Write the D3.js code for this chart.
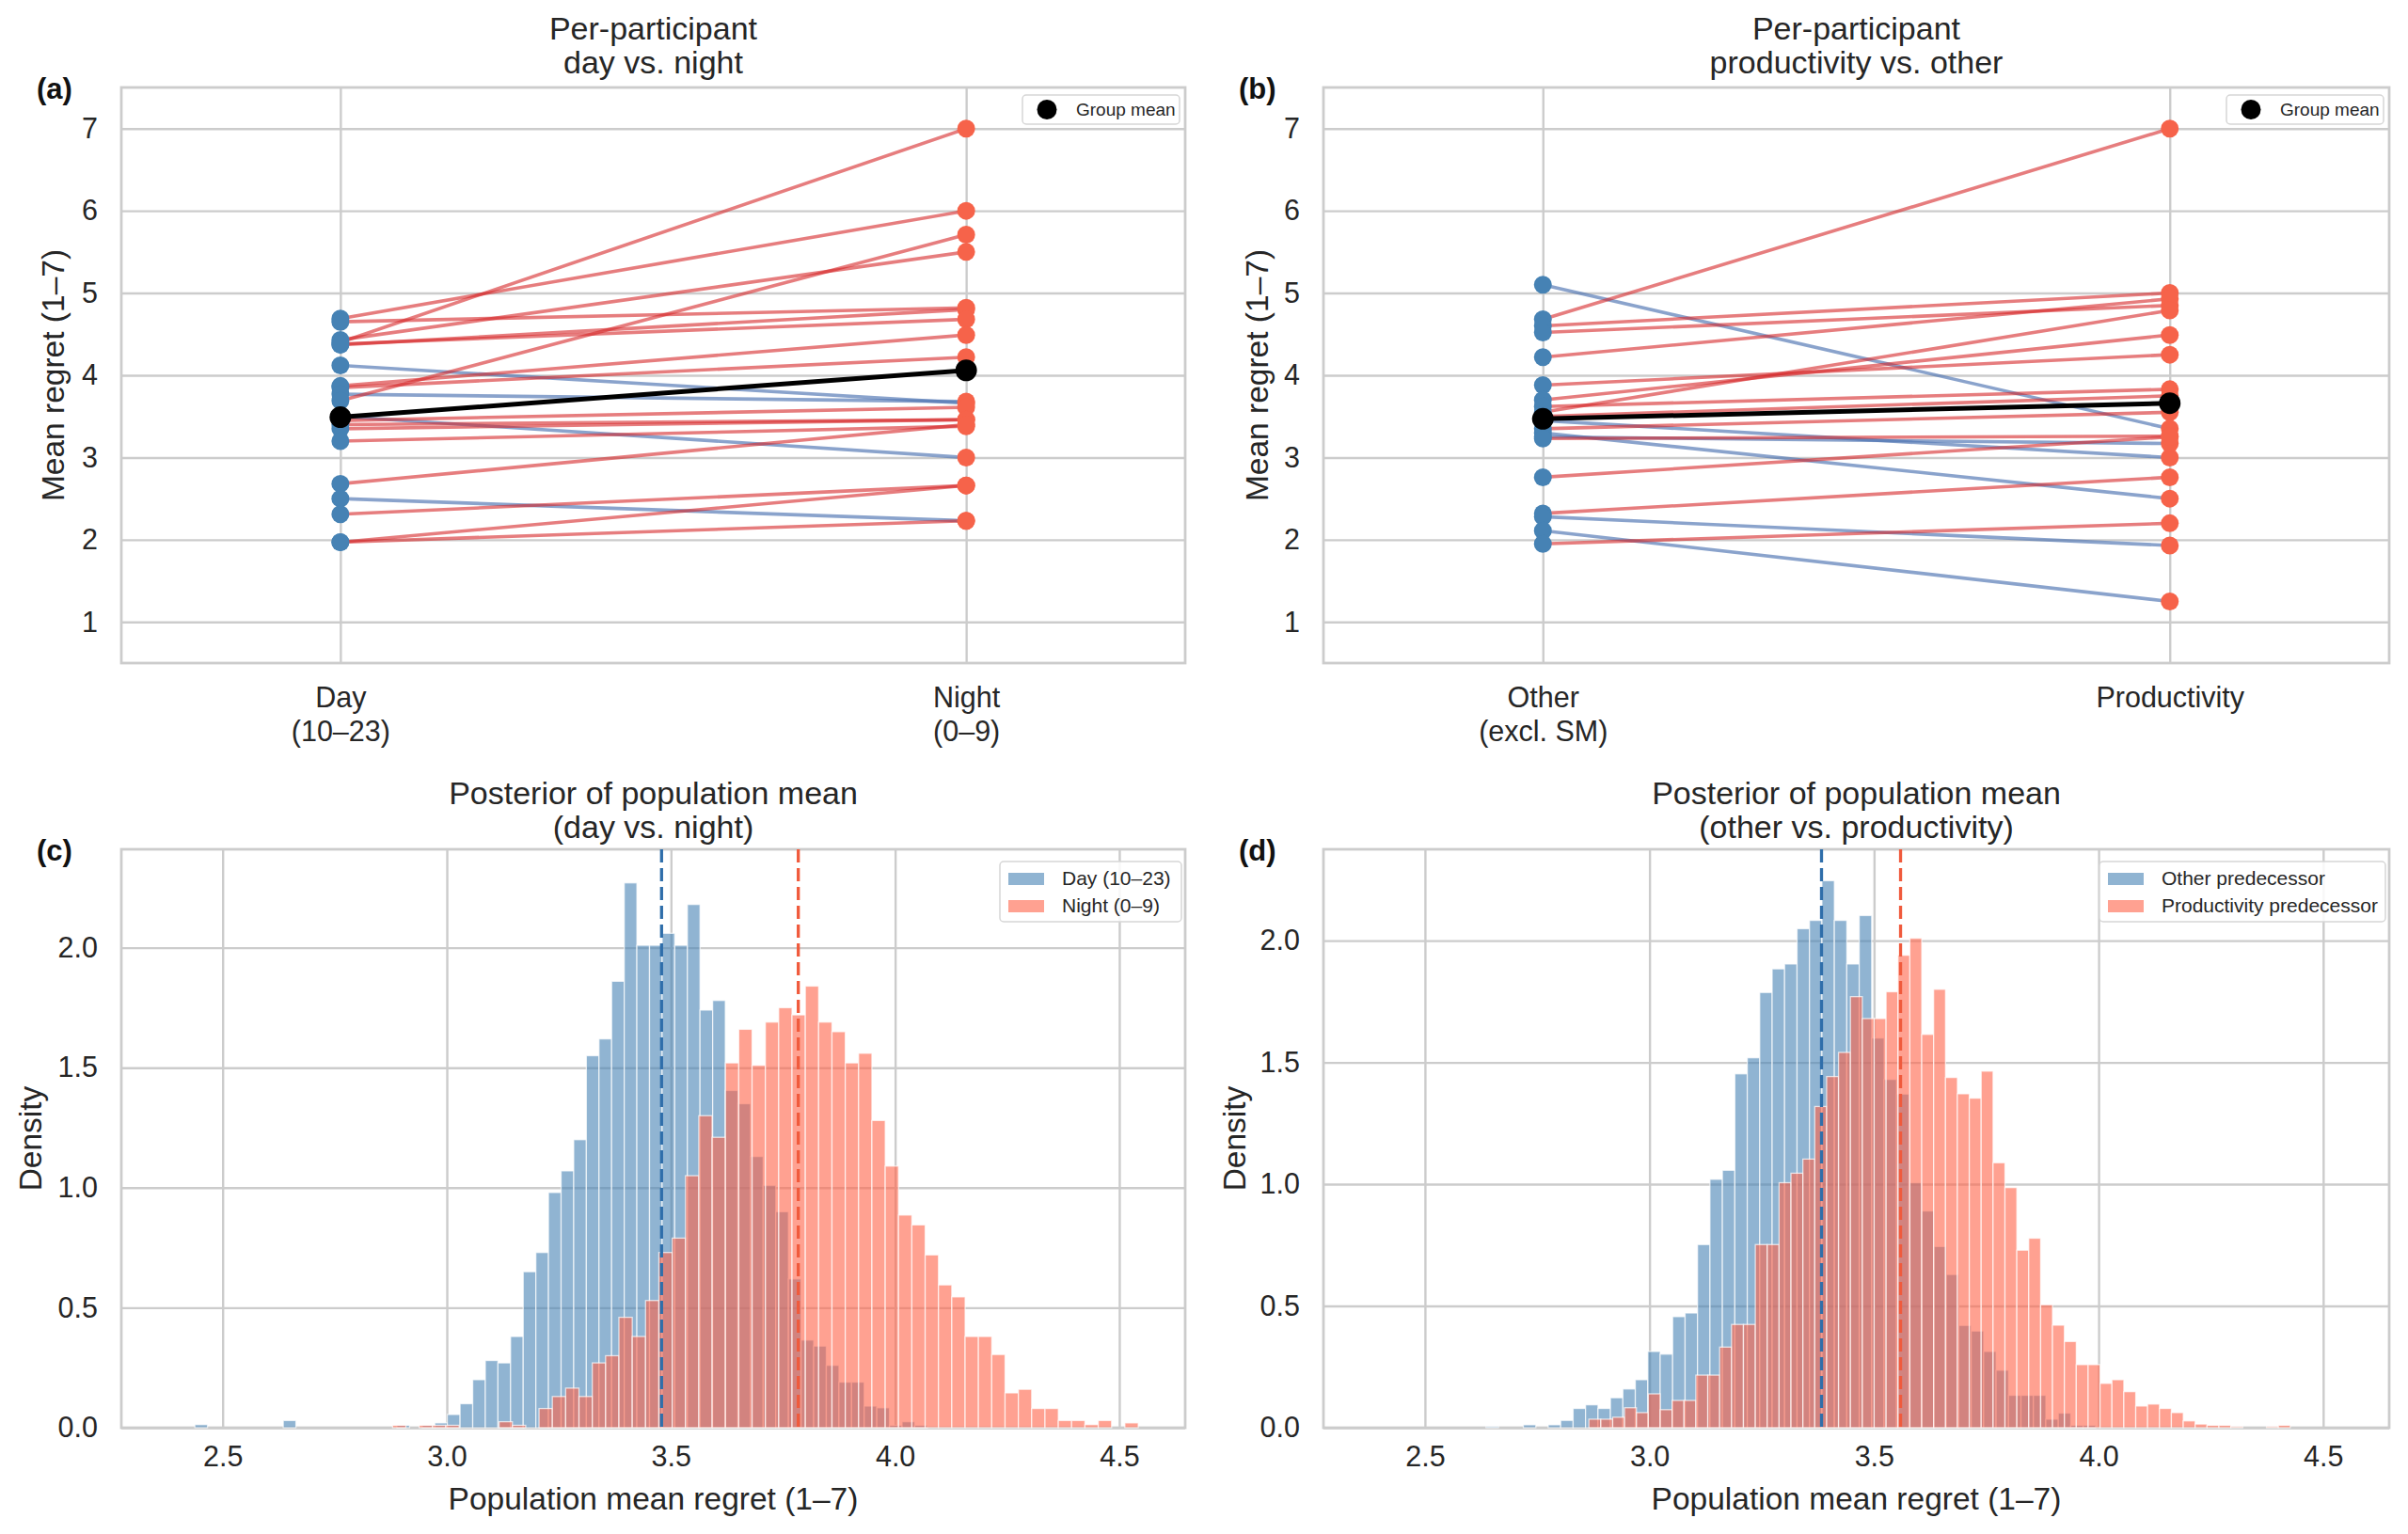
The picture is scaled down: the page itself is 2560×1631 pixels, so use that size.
<!DOCTYPE html>
<html><head><meta charset="utf-8">
<script src="https://cdn.jsdelivr.net/npm/d3@7/dist/d3.min.js"></script>
<style>
html,body{margin:0;padding:0;background:#fff;}
svg{display:block;font-family:"Liberation Sans",Arial,sans-serif;}
</style></head><body>
<svg id="chart" width="2560" height="1631"></svg>
<script>
// ---------------- DATA ----------------
const dayNightCategories = ["Day\n(10–23)", "Night\n(0–9)"];
const dayValues   = [4.69, 4.40, 4.65, 4.43, 4.37, 4.38, 4.12, 3.85, 3.87, 3.77, 3.69, 3.50, 3.45, 3.40, 3.35, 3.20, 2.68, 2.50, 2.31, 1.97, 1.97];
const nightValues = [6.00, 7.00, 4.82, 5.50, 4.80, 4.68, 3.66, 4.22, 4.49, 3.68, 5.71, 3.00, 3.61, 3.46, 3.46, 3.38, 3.40, 2.23, 2.66, 2.66, 2.23];
const dayNightMean = [3.49, 4.06];

const prodCategories = ["Other\n(excl. SM)", "Productivity"];
const otherValues        = [5.10, 4.68, 4.60, 4.52, 4.22, 3.88, 3.70, 3.55, 3.62, 3.50, 3.45, 3.35, 3.30, 3.25, 3.23, 2.76, 2.32, 2.28, 2.11, 1.95];
const productivityValues = [3.35, 7.00, 5.00, 4.85, 4.93, 4.25, 4.49, 4.79, 3.83, 3.75, 3.00, 3.55, 2.50, 3.17, 3.26, 3.25, 2.76, 1.93, 1.25, 2.20];
const prodMean = [3.47, 3.66];

const regretTicks = [1, 2, 3, 4, 5, 6, 7];
const densityTicks = [0, 0.5, 1.0, 1.5, 2.0];
const popMeanTicks = [2.5, 3.0, 3.5, 4.0, 4.5];

// posterior histograms: first bin edge, bin width, density per bin
const dayPostStart = 2.438, dayPostWidth = 0.02817;
const dayPostDensity = [0.013,0,0,0,0,0,0,0.03,0,0,0,0,0,0,0,0,0.01,0,0.01,0.02,
  0.055,0.10,0.20,0.28,0.27,0.38,0.65,0.73,0.98,1.07,1.20,1.55,1.62,1.86,2.27,2.01,2.01,2.06,2.01,2.18,
  1.74,1.78,1.405,1.35,1.13,1.01,0.90,0.62,0.365,0.34,0.26,0.19,0.19,0.09,0.083,0.01,0.025,0.01];
const nightPostStart = 2.879, nightPostWidth = 0.0297;
const nightPostDensity = [0.01,0,0.01,0.01,0.01,0,0,0,0.025,0.01,0,0.08,0.13,0.165,0.13,0.27,0.30,0.46,0.38,0.53,
  0.73,0.79,1.05,1.30,1.21,1.52,1.66,1.51,1.69,1.75,1.72,1.84,1.69,1.65,1.52,1.56,1.28,1.09,0.886,0.845,
  0.72,0.595,0.545,0.38,0.38,0.305,0.145,0.16,0.08,0.08,0.03,0.03,0.013,0.03,0,0.02];
const dayNightPostMeans = [3.479, 3.784];

const otherPostStart = 2.636, otherPostWidth = 0.0277;
const otherPostDensity = [0.005,0,0,0.012,0,0.012,0.03,0.079,0.094,0.079,0.123,0.159,0.197,0.313,0.302,0.456,0.471,0.752,1.02,1.057,
  1.453,1.519,1.787,1.884,1.904,2.049,2.083,2.246,2.083,1.904,2.103,1.60,1.43,1.37,1.006,0.89,0.744,0.629,0.42,0.397,
  0.313,0.236,0.133,0.133,0.133,0.035,0.06,0.01,0.01];
const prodPostStart = 2.865, prodPostWidth = 0.02647;
const prodPostDensity = [0.035,0.035,0.043,0.082,0.062,0.139,0.074,0.112,0.112,0.216,0.216,0.331,0.424,0.424,0.752,0.752,1.006,1.045,1.103,1.319,
  1.442,1.541,1.77,1.68,1.68,1.79,1.94,2.01,1.615,1.80,1.438,1.371,1.353,1.464,1.088,0.986,0.729,0.778,0.505,0.421,
  0.354,0.259,0.259,0.182,0.197,0.148,0.089,0.097,0.079,0.062,0.028,0.015,0.01,0.01,0.005,0,0,0.005,0.01];
const prodPostMeans = [3.383, 3.559];

// ---------------- STYLE ----------------
const TXT = "#262626", GRID = "#cccccc";
const BLUE = "#4682b4", RED = "#f6634a";
const UP_LINE = "#d62728", DOWN_LINE = "#4c72b0";
const HIST_BLUE = "#4682b4", HIST_RED = "#ff6347";
const svg = d3.select("#chart");

const boxes = {
  a: {x0: 129, x1: 1260, y0: 93, y1: 705},
  b: {x0: 1407, x1: 2540, y0: 93, y1: 705},
  c: {x0: 129, x1: 1260, y0: 903, y1: 1518},
  d: {x0: 1407, x1: 2540, y0: 903, y1: 1518}
};

function styleAxis(g) {
  g.select(".domain").remove();
  g.selectAll(".tick line").attr("stroke", GRID).attr("stroke-width", 2.4);
  g.selectAll(".tick text").attr("fill", TXT).style("font-size", "30.5px")
    .style("font-family", '"Liberation Sans", Arial, sans-serif');
}

function frame(box, titleLines, letter, titleBase) {
  const cx = (box.x0 + box.x1) / 2;
  const t = svg.append("text").attr("text-anchor", "middle").attr("fill", TXT).style("font-size", "34px");
  titleLines.forEach((s, i) => t.append("tspan").attr("x", cx).attr("y", titleBase + i * 36).text(s));
  svg.append("text").attr("x", box.x0 - 90).attr("y", box.y0 + 12).attr("fill", "#111")
    .style("font-size", "31px").style("font-weight", "bold").text(letter);
  svg.append("rect").attr("x", box.x0).attr("y", box.y0).attr("width", box.x1 - box.x0)
    .attr("height", box.y1 - box.y0).attr("fill", "none").attr("stroke", GRID).attr("stroke-width", 2.8);
}

function ylabelText(x, box, s) {
  const cy = (box.y0 + box.y1) / 2;
  svg.append("text").attr("transform", `translate(${x},${cy}) rotate(-90)`)
    .attr("text-anchor", "middle").attr("fill", TXT).style("font-size", "33.5px").text(s);
}

// ---------------- PAIRED PANELS ----------------
function drawPaired(box, cats, left, right, mean, titleLines, letter, ylabX) {
  const x = d3.scaleLinear().domain([-0.35, 1.35]).range([box.x0, box.x1]);
  const y = d3.scaleLinear().domain([0.5, 7.5]).range([box.y1, box.y0]);
  const w = box.x1 - box.x0, h = box.y1 - box.y0;

  const gy = svg.append("g").attr("transform", `translate(${box.x0},0)`)
    .call(d3.axisLeft(y).tickValues(regretTicks).tickSize(-w).tickPadding(25).tickFormat(d3.format("d")));
  styleAxis(gy);
  const gx = svg.append("g").attr("transform", `translate(0,${box.y1})`)
    .call(d3.axisBottom(x).tickValues([0, 1]).tickSize(-h).tickPadding(25).tickFormat(i => cats[i]));
  styleAxis(gx);
  gx.selectAll(".tick text").each(function(d) {
    const el = d3.select(this); const lines = cats[d].split("\n");
    el.text(null).attr("dy", null);
    lines.forEach((s, i) => el.append("tspan").attr("x", 0).attr("dy", i === 0 ? "0.71em" : "1.18em").text(s));
  });

  frame(box, titleLines, letter, 42);
  ylabelText(ylabX, box, "Mean regret (1–7)");

  const pairs = left.map((v, i) => ({a: v, b: right[i]}));
  svg.append("g").selectAll("line").data(pairs).join("line")
    .attr("x1", x(0)).attr("x2", x(1)).attr("y1", p => y(p.a)).attr("y2", p => y(p.b))
    .attr("stroke", p => p.b >= p.a ? UP_LINE : DOWN_LINE)
    .attr("stroke-opacity", p => p.b >= p.a ? 0.6 : 0.65).attr("stroke-width", 3.6);
  svg.append("g").selectAll("circle").data(left).join("circle")
    .attr("cx", x(0)).attr("cy", d => y(d)).attr("r", 9.5).attr("fill", BLUE);
  svg.append("g").selectAll("circle").data(right).join("circle")
    .attr("cx", x(1)).attr("cy", d => y(d)).attr("r", 9.5).attr("fill", RED);
  svg.append("line").attr("x1", x(0)).attr("x2", x(1)).attr("y1", y(mean[0])).attr("y2", y(mean[1]))
    .attr("stroke", "#000").attr("stroke-width", 5);
  svg.append("g").selectAll("circle").data(mean).join("circle")
    .attr("cx", (d, i) => x(i)).attr("cy", d => y(d)).attr("r", 11.5).attr("fill", "#000");

  // legend
  const lx1 = box.x1 - 6, lx0 = lx1 - 167, ly0 = box.y0 + 8;
  svg.append("rect").attr("x", lx0).attr("y", ly0).attr("width", lx1 - lx0).attr("height", 31)
    .attr("rx", 4).attr("fill", "#fff").attr("fill-opacity", 0.85).attr("stroke", "#d6d6d6").attr("stroke-width", 1.5);
  svg.append("circle").attr("cx", lx0 + 26).attr("cy", ly0 + 15.5).attr("r", 10.5).attr("fill", "#000");
  svg.append("text").attr("x", lx0 + 57).attr("y", ly0 + 22).attr("fill", TXT).style("font-size", "19px").text("Group mean");
}

// ---------------- HISTOGRAM PANELS ----------------
function drawHist(box, sA, sB, means, titleLines, letter, labels, yMax, ylabX) {
  const x = d3.scaleLinear().domain([2.274, 4.647]).range([box.x0, box.x1]);
  const y = d3.scaleLinear().domain([0, yMax]).range([box.y1, box.y0]);
  const w = box.x1 - box.x0, h = box.y1 - box.y0;

  const gy = svg.append("g").attr("transform", `translate(${box.x0},0)`)
    .call(d3.axisLeft(y).tickValues(densityTicks).tickSize(-w).tickPadding(25).tickFormat(d3.format(".1f")));
  styleAxis(gy);
  const gx = svg.append("g").attr("transform", `translate(0,${box.y1})`)
    .call(d3.axisBottom(x).tickValues(popMeanTicks).tickSize(-h).tickPadding(19).tickFormat(d3.format(".1f")));
  styleAxis(gx);

  frame(box, titleLines, letter, 855);
  ylabelText(ylabX, box, "Density");
  svg.append("text").attr("x", (box.x0 + box.x1) / 2).attr("y", box.y1 + 87).attr("text-anchor", "middle")
    .attr("fill", TXT).style("font-size", "33.5px").text("Population mean regret (1–7)");

  [sA, sB].forEach(s => {
    const data = s.dens.map((d, i) => ({i, d})).filter(o => o.d > 0);
    svg.append("g").selectAll("rect").data(data).join("rect")
      .attr("x", o => x(s.start + o.i * s.width))
      .attr("width", o => x(s.start + (o.i + 1) * s.width) - x(s.start + o.i * s.width))
      .attr("y", o => y(o.d)).attr("height", o => y(0) - y(o.d))
      .attr("fill", s.color).attr("fill-opacity", 0.6)
      .attr("stroke", "#fff").attr("stroke-opacity", 0.7).attr("stroke-width", 1.3);
  });
  svg.append("line").attr("x1", x(means[0])).attr("x2", x(means[0])).attr("y1", box.y0).attr("y2", box.y1)
    .attr("stroke", "#2f6eaa").attr("stroke-width", 3.3).attr("stroke-dasharray", "14,6");
  svg.append("line").attr("x1", x(means[1])).attr("x2", x(means[1])).attr("y1", box.y0).attr("y2", box.y1)
    .attr("stroke", "#f05a3c").attr("stroke-width", 3.3).attr("stroke-dasharray", "14,6");

  // legend
  const lx1 = box.x1 - 4, lx0 = lx1 - labels.w, ly0 = box.y0 + 13;
  svg.append("rect").attr("x", lx0).attr("y", ly0).attr("width", lx1 - lx0).attr("height", 64)
    .attr("rx", 4).attr("fill", "#fff").attr("fill-opacity", 0.85).attr("stroke", "#d6d6d6").attr("stroke-width", 1.5);
  [sA, sB].forEach((s, i) => {
    svg.append("rect").attr("x", lx0 + 9).attr("y", ly0 + 12 + i * 29).attr("width", 38).attr("height", 13)
      .attr("fill", s.color).attr("fill-opacity", 0.6);
    svg.append("text").attr("x", lx0 + 66).attr("y", ly0 + 25 + i * 29).attr("fill", TXT)
      .style("font-size", "21px").text(labels.names[i]);
  });
}

drawPaired(boxes.a, dayNightCategories, dayValues, nightValues, dayNightMean,
  ["Per-participant", "day vs. night"], "(a)", 68);
drawPaired(boxes.b, prodCategories, otherValues, productivityValues, prodMean,
  ["Per-participant", "productivity vs. other"], "(b)", 1348);

drawHist(boxes.c,
  {start: dayPostStart, width: dayPostWidth, dens: dayPostDensity, color: HIST_BLUE},
  {start: nightPostStart, width: nightPostWidth, dens: nightPostDensity, color: HIST_RED},
  dayNightPostMeans, ["Posterior of population mean", "(day vs. night)"], "(c)",
  {names: ["Day (10–23)", "Night (0–9)"], w: 193}, 2.41, 44);
drawHist(boxes.d,
  {start: otherPostStart, width: otherPostWidth, dens: otherPostDensity, color: HIST_BLUE},
  {start: prodPostStart, width: prodPostWidth, dens: prodPostDensity, color: HIST_RED},
  prodPostMeans, ["Posterior of population mean", "(other vs. productivity)"], "(d)",
  {names: ["Other predecessor", "Productivity predecessor"], w: 304}, 2.375, 1324);
</script></body></html>
